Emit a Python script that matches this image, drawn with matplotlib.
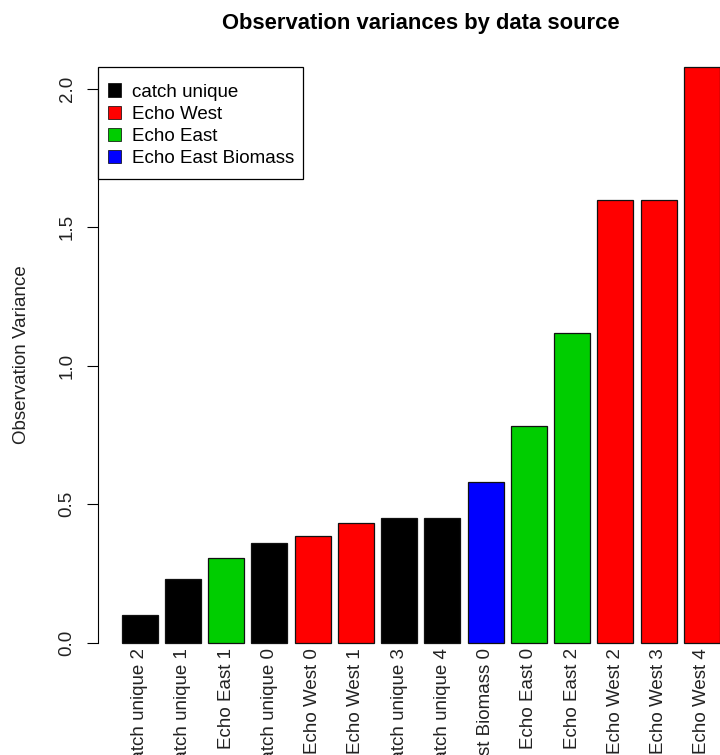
import matplotlib
matplotlib.use("Agg")
import matplotlib.pyplot as plt
from matplotlib.patches import Patch, Rectangle

# observation variances, sorted ascending
names = ["catch unique 2", "catch unique 1", "Echo East 1", "catch unique 0",
         "Echo West 0", "Echo West 1", "catch unique 3", "catch unique 4",
         "Echo East Biomass 0", "Echo East 0", "Echo East 2", "Echo West 2",
         "Echo West 3", "Echo West 4"]
variances = [0.100, 0.229, 0.304, 0.358, 0.384, 0.433, 0.448, 0.448,
             0.578, 0.783, 1.119, 1.596, 1.596, 2.076]
sources = ["catch unique", "catch unique", "Echo East", "catch unique",
           "Echo West", "Echo West", "catch unique", "catch unique",
           "Echo East Biomass", "Echo East", "Echo East", "Echo West",
           "Echo West", "Echo West"]

source_names = ["catch unique", "Echo West", "Echo East", "Echo East Biomass"]
source_cols = ["#000000", "#FF0000", "#00CD00", "#0000FF"]
col_of = dict(zip(source_names, source_cols))

plt.rcParams['font.family'] = ['Liberation Sans', 'DejaVu Sans']
fs = 13.5

fig = plt.figure(figsize=(7.2, 7.55), dpi=100)
ax = fig.add_axes([0.1356, 0.149, 0.8974, 0.7616])

# barplot layout: width 1, space 0.2
xpos = [0.7 + 1.2 * i for i in range(len(names))]
bars = ax.bar(xpos, variances, width=1.0,
              color=[col_of[s] for s in sources],
              edgecolor="#111111", linewidth=0.9)
for b in bars:
    b.set_clip_on(False)

ax.set_xlim(-0.464, 17.464)
ax.set_ylim(0, max(variances))

for s in ["top", "right", "bottom"]:
    ax.spines[s].set_visible(False)
ax.spines["left"].set_bounds(0, 2.0)
ax.spines["left"].set_linewidth(0.8)

ax.set_yticks([0, 0.5, 1.0, 1.5, 2.0])
ax.set_yticklabels(["0.0", "0.5", "1.0", "1.5", "2.0"])
ax.tick_params(axis="y", length=8, width=0.8, pad=10.8, labelsize=fs,
               labelcolor="#222222")
for lab in ax.get_yticklabels():
    lab.set_rotation(90)
    lab.set_rotation_mode("anchor")
    lab.set_ha("center")
    lab.set_va("baseline")

ax.set_xticks(xpos)
ax.set_xticklabels(names)
ax.tick_params(axis="x", length=0, pad=4, labelsize=fs, labelcolor="#222222")
for lab in ax.get_xticklabels():
    lab.set_rotation(90)
    lab.set_rotation_mode("anchor")
    lab.set_ha("right")
    lab.set_va("center")

fig.text(26 / 720, 1 - 355 / 755, "Observation Variance", rotation=90,
         rotation_mode="anchor", ha="center", va="baseline", fontsize=fs,
         color="#222222")

ax.set_title("Observation variances by data source", fontsize=15.8,
             fontweight="bold", pad=27.7)

# legend box in the top-left corner of the plot region
ax.add_patch(Rectangle((0.0005, 0.8061), 0.3173, 0.1939, transform=ax.transAxes,
                       facecolor="white", edgecolor="black", linewidth=0.9,
                       clip_on=False, zorder=4))
handles = [Patch(facecolor=c, edgecolor="black", linewidth=0.5) for c in source_cols]
leg = ax.legend(handles, source_names, loc="upper left",
                bbox_to_anchor=(0.0165, 0.9722), borderaxespad=0,
                fontsize=fs, frameon=False, handlelength=0.7,
                handleheight=0.7, handletextpad=0.57, labelspacing=0.267,
                borderpad=0)
leg.set_zorder(5)

fig.savefig("out.png", dpi=100)
